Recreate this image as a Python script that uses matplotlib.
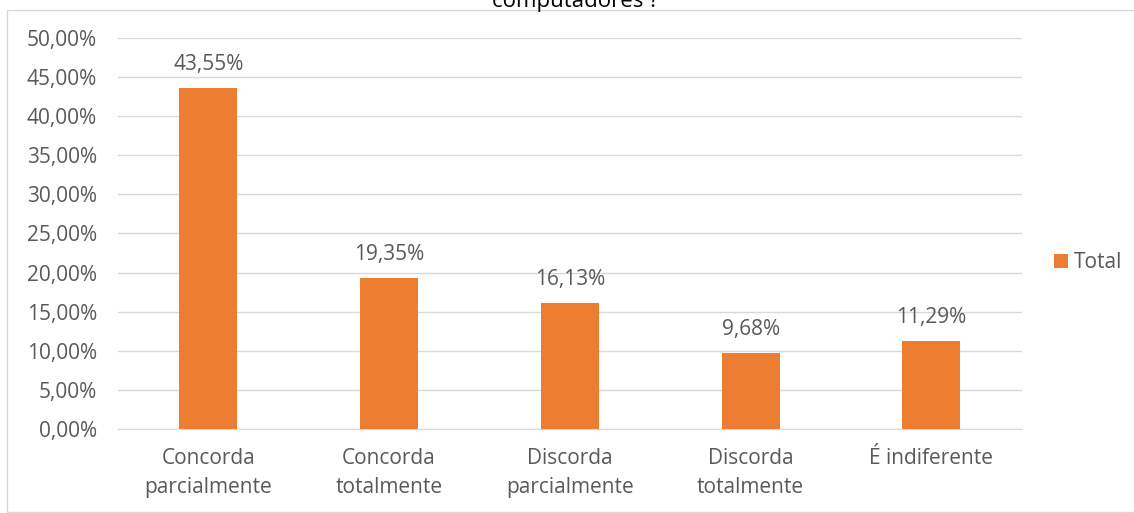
import matplotlib.pyplot as plt
from matplotlib.ticker import FuncFormatter, MultipleLocator

categorias = ['Concorda\nparcialmente', 'Concorda\ntotalmente', 'Discorda\nparcialmente',
              'Discorda\ntotalmente', 'É indiferente']
valores = [43.55, 19.35, 16.13, 9.68, 11.29]

laranja = '#ED7D31'
cinza_txt = '#595959'
cinza_grade = '#D9D9D9'

plt.rcParams['font.family'] = ['Open Sans', 'DejaVu Sans']
plt.rcParams['font.size'] = 15

fig = plt.figure(figsize=(11.34, 5.13), dpi=100)
ax = fig.add_axes([0.104, 0.164, 0.797, 0.762])

x = range(len(categorias))
barras = ax.bar(x, valores, width=0.32, color=laranja, label='Total', zorder=3)

for b, v in zip(barras, valores):
    txt = ('%.2f%%' % v).replace('.', ',')
    ax.annotate(txt, (b.get_x() + b.get_width() / 2, v), xytext=(0, 13),
                textcoords='offset points', ha='center', va='baseline', color=cinza_txt)

ax.set_ylim(0, 50)
ax.set_xlim(-0.5, len(categorias) - 0.5)
ax.yaxis.set_major_locator(MultipleLocator(5))
ax.yaxis.set_major_formatter(FuncFormatter(lambda v, p: ('%.2f%%' % v).replace('.', ',')))
ax.set_xticks(list(x))
ax.set_xticklabels(categorias, color=cinza_txt, linespacing=1.45)
ax.tick_params(axis='y', colors=cinza_txt, length=0, pad=15)
ax.tick_params(axis='x', colors=cinza_txt, length=0, pad=14)
ax.grid(axis='y', color=cinza_grade, lw=1, zorder=0)
for s in ['top', 'right', 'left']:
    ax.spines[s].set_visible(False)
ax.spines['bottom'].set_color(cinza_grade)

ax.legend(loc='center left', bbox_to_anchor=(1.015, 0.425), frameon=False,
          handlelength=0.65, handleheight=0.65, handletextpad=0.3, labelcolor=cinza_txt)

# moldura do gráfico
fig.patches.append(plt.Rectangle((7 / 1134, 0.002), 1.5, 1 - 10 / 513 - 0.002,
                                 transform=fig.transFigure, fill=False,
                                 edgecolor=cinza_grade, lw=1))

fig.text(0.507, 1 - 7 / 513, 'computadores ?', ha='center', va='baseline',
         color='black', fontsize=16)

fig.savefig('out.png', dpi=100)
